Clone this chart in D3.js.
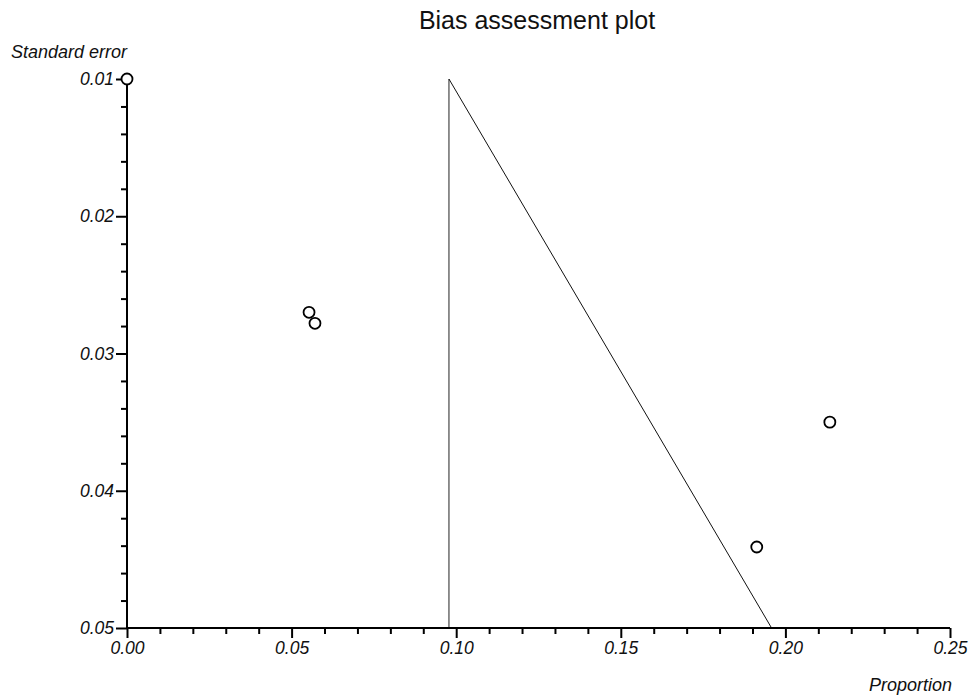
<!DOCTYPE html>
<html>
<head>
<meta charset="utf-8">
<script src="https://cdn.jsdelivr.net/npm/d3@7"></script>
<style>
  html, body { margin: 0; padding: 0; background: #fff; }
  svg { display: block; font-family: "Liberation Sans", Arial, sans-serif; }
</style>
</head>
<body>
<svg id="chart" width="974" height="700"></svg>
<script>
// Study estimates: proportion and its standard error
const proportions = [0.0, 0.0553, 0.0571, 0.2135, 0.1913];
const standardErrors = [0.0100, 0.0270, 0.0278, 0.0350, 0.0441];

// Pooled estimate and funnel edge
const pooled = 0.0978;
const funnelTop = 0.01;
const funnelBottom = 0.05;
const funnelEdgeAtBottom = 0.1958;

const xMajorTicks = [0.00, 0.05, 0.10, 0.15, 0.20, 0.25];
const yMajorTicks = [0.01, 0.02, 0.03, 0.04, 0.05];

const svg = d3.select("#chart");
const x = d3.scaleLinear().domain([0, 0.25]).range([127, 950]);
const y = d3.scaleLinear().domain([0.01, 0.05]).range([79, 628]);

// Title
svg.append("text")
  .attr("x", 537).attr("y", 29)
  .attr("text-anchor", "middle")
  .attr("font-size", 25)
  .attr("fill", "#111")
  .text("Bias assessment plot");

// Axis titles
svg.append("text")
  .attr("x", 11).attr("y", 58)
  .attr("font-size", 18)
  .attr("font-style", "italic")
  .attr("fill", "#111")
  .text("Standard error");

svg.append("text")
  .attr("x", 952).attr("y", 691)
  .attr("text-anchor", "end")
  .attr("font-size", 18)
  .attr("font-style", "italic")
  .attr("fill", "#111")
  .text("Proportion");

// Funnel lines
svg.append("line")
  .attr("x1", x(pooled)).attr("y1", y(funnelTop))
  .attr("x2", x(pooled)).attr("y2", y(funnelBottom))
  .attr("stroke", "#222").attr("stroke-width", 1);
svg.append("line")
  .attr("x1", x(pooled)).attr("y1", y(funnelTop))
  .attr("x2", x(funnelEdgeAtBottom)).attr("y2", y(funnelBottom))
  .attr("stroke", "#111").attr("stroke-width", 1);

// X axis
const xMinor = d3.range(0, 0.2501, 0.01).filter(v => !xMajorTicks.some(t => Math.abs(t - v) < 1e-9));
const xAxis = svg.append("g").attr("transform", `translate(0,${y(0.05)})`);
xAxis.call(d3.axisBottom(x).tickValues(xMinor).tickSize(6).tickFormat(""));
xAxis.append("g").call(d3.axisBottom(x).tickValues(xMajorTicks).tickSize(10).tickPadding(4).tickFormat(d3.format(".2f")));
xAxis.selectAll(".domain").attr("d", `M${x(0)},0H${x(0.25)}`).attr("stroke", "#000").attr("stroke-width", 2);
xAxis.selectAll(".tick line").attr("stroke", "#000").attr("stroke-width", 2);
xAxis.selectAll(".tick text").attr("font-size", 17.5).attr("font-style", "italic").attr("fill", "#111")
  .attr("font-family", "Liberation Sans, Arial, sans-serif");

// Y axis
const yMinor = d3.range(0.01, 0.05001, 0.002).filter(v => !yMajorTicks.some(t => Math.abs(t - v) < 1e-9));
const yAxis = svg.append("g").attr("transform", `translate(${x(0)},0)`);
yAxis.call(d3.axisLeft(y).tickValues(yMinor).tickSize(6).tickFormat(""));
yAxis.append("g").call(d3.axisLeft(y).tickValues(yMajorTicks).tickSize(11).tickPadding(2).tickFormat(d3.format(".2f")));
yAxis.selectAll(".domain").attr("d", `M0,${y(0.01)}V${y(0.05)}`).attr("stroke", "#000").attr("stroke-width", 2);
yAxis.selectAll(".tick line").attr("stroke", "#000").attr("stroke-width", 2);
yAxis.selectAll(".tick text").attr("font-size", 17.5).attr("font-style", "italic").attr("fill", "#111")
  .attr("font-family", "Liberation Sans, Arial, sans-serif");

// Study points
svg.append("g").selectAll("circle")
  .data(proportions.map((p, i) => ({ p, se: standardErrors[i] })))
  .join("circle")
  .attr("cx", d => x(d.p))
  .attr("cy", d => y(d.se))
  .attr("r", 5.5)
  .attr("fill", "#fff")
  .attr("stroke", "#000")
  .attr("stroke-width", 1.8);
</script>
</body>
</html>
